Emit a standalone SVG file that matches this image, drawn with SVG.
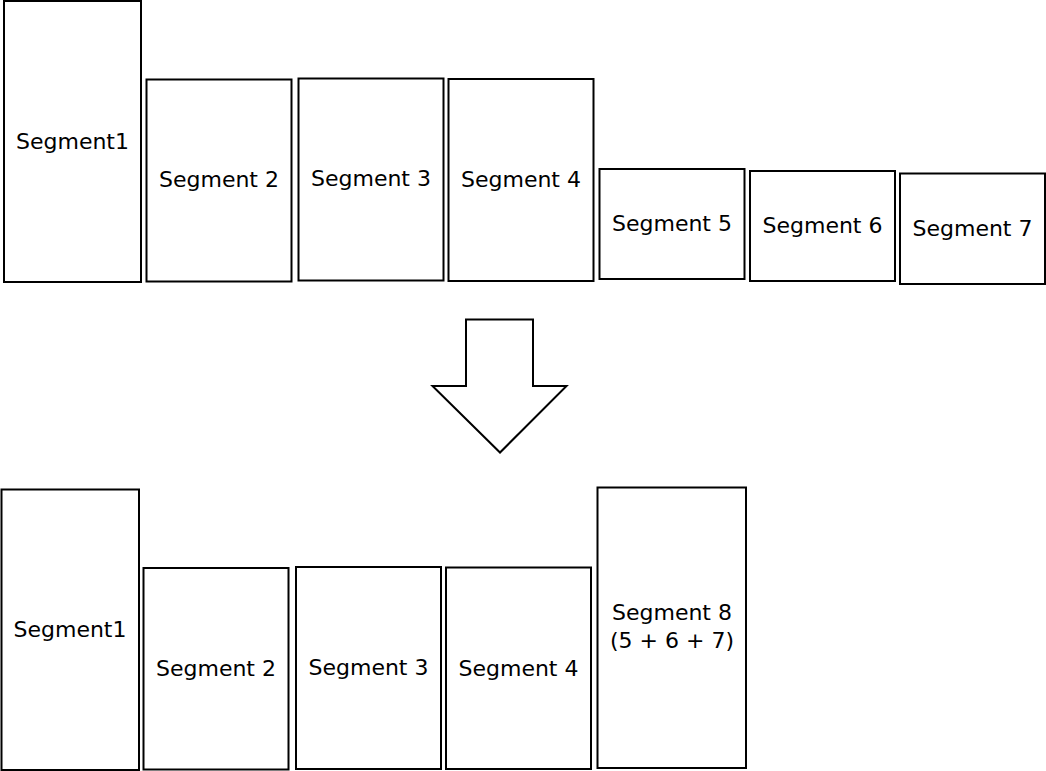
<svg xmlns="http://www.w3.org/2000/svg" width="1046" height="771" viewBox="0 0 1046 771">
<style>
.box{fill:#fff;stroke:#000;stroke-width:2}
.lbl{font-family:"DejaVu Sans",sans-serif;font-size:22px;fill:#000;text-anchor:middle}
</style>
<rect x="0" y="0" width="1046" height="771" fill="#fff"/>
<g id="top-seg1"><rect class="box" x="4" y="1" width="137" height="281"/><text class="lbl" x="72.5" y="148.5">Segment1</text></g>
<g id="top-seg2"><rect class="box" x="146.5" y="79.5" width="145" height="202"/><text class="lbl" x="219" y="187">Segment 2</text></g>
<g id="top-seg3"><rect class="box" x="298.5" y="78.5" width="145" height="202"/><text class="lbl" x="371" y="186">Segment 3</text></g>
<g id="top-seg4"><rect class="box" x="448.5" y="79" width="145" height="202"/><text class="lbl" x="521" y="186.5">Segment 4</text></g>
<g id="top-seg5"><rect class="box" x="599.5" y="169" width="145" height="110"/><text class="lbl" x="672" y="231">Segment 5</text></g>
<g id="top-seg6"><rect class="box" x="750" y="171" width="145" height="110"/><text class="lbl" x="822.5" y="233">Segment 6</text></g>
<g id="top-seg7"><rect class="box" x="900" y="173.5" width="145" height="110.5"/><text class="lbl" x="972.5" y="235.5">Segment 7</text></g>
<g id="arrow"><path class="box" d="M466,319.5 H533 V386 H566.5 L500,452.5 L432.5,386 H466 Z"/></g>
<g id="bot-seg1"><rect class="box" x="1.5" y="489.5" width="137.5" height="280.5"/><text class="lbl" x="70" y="637">Segment1</text></g>
<g id="bot-seg2"><rect class="box" x="143.5" y="568" width="145" height="201.5"/><text class="lbl" x="216" y="675.5">Segment 2</text></g>
<g id="bot-seg3"><rect class="box" x="296" y="567" width="145" height="202"/><text class="lbl" x="368.5" y="675">Segment 3</text></g>
<g id="bot-seg4"><rect class="box" x="446" y="567.5" width="145" height="201.5"/><text class="lbl" x="518.5" y="675.5">Segment 4</text></g>
<g id="bot-seg8"><rect class="box" x="597.5" y="487.5" width="148.5" height="280.5"/><text class="lbl" x="672" y="620">Segment 8</text><text class="lbl" x="672" y="647.5">(5 + 6 + 7)</text></g>
<g id="connectors"></g>
</svg>
